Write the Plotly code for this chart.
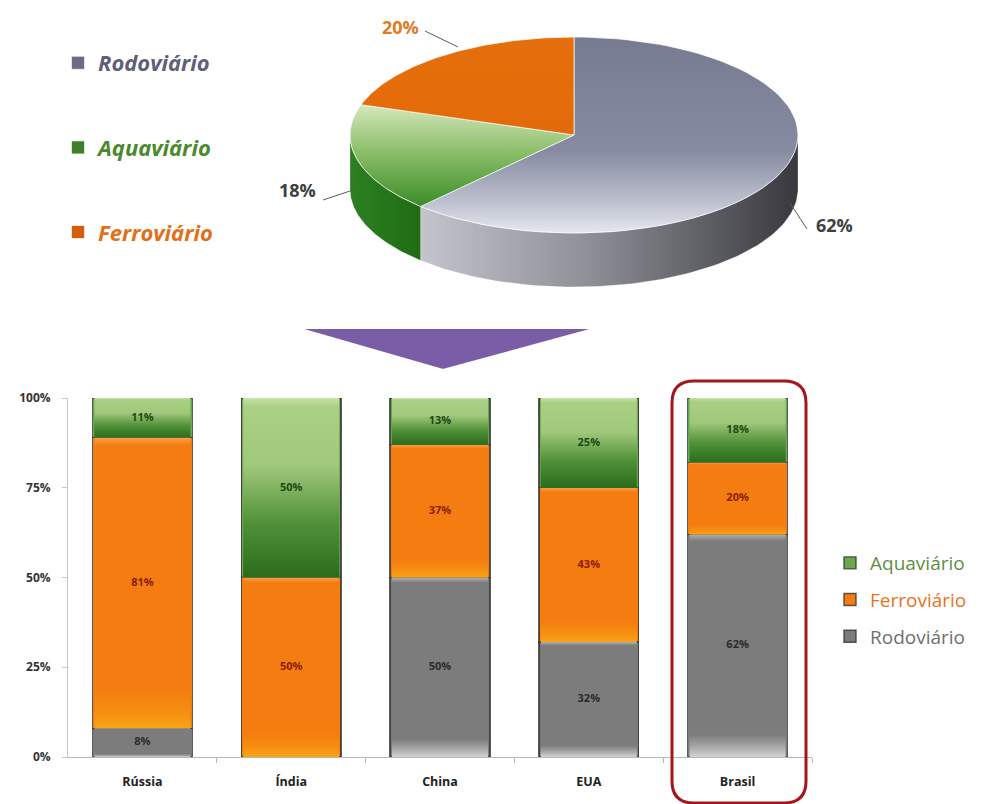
import math
import plotly.graph_objects as go

# ---- data -------------------------------------------------------------
countries = ["Rússia", "Índia", "China", "EUA", "Brasil"]
rodoviario = [8, 0, 50, 32, 62]
ferroviario = [81, 50, 37, 43, 20]
aquaviario = [11, 50, 13, 25, 18]
y_ticks = [0, 25, 50, 75, 100]

pie_modes = ["Rodoviário", "Aquaviário", "Ferroviário"]
pie_shares = [62, 18, 20]

W, H = 989, 804
BAR_W = 0.67


def px(x):
    return x / W


def py(y):
    return 1 - y / H


fig = go.Figure()
xpos = list(range(len(countries)))

# ---- stacked bars -----------------------------------------------------
bar_series = [
    dict(name="Rodoviário", vals=rodoviario, color="#7c7c7c", text="#2b2b2b", legend="#6f6f6f", rank=3,
         grad=[[0, "#d2d2d2"], [0.05, "#a4a4a4"], [0.1, "#7c7c7c"], [0.97, "#7c7c7c"], [1, "#b0b0b0"]]),
    dict(name="Ferroviário", vals=ferroviario, color="#f47c12", text="#8a1c00", legend="#e8731a", rank=2,
         grad=[[0, "#f7a418"], [0.06, "#f68e10"], [0.14, "#f47c10"], [0.97, "#f47c10"], [1, "#f7a048"]]),
    dict(name="Aquaviário", vals=aquaviario, color="#6aa84c", text="#1d4a12", legend="#5d8f45", rank=1,
         grad=[[0, "#2a6c1c"], [0.3, "#4f9038"], [0.62, "#a0c87a"], [0.95, "#aad084"], [1, "#c8e2aa"]]),
]
base = [0] * len(countries)
segments = []
for s in bar_series:
    fig.add_trace(go.Bar(
        x=xpos, y=s["vals"], width=BAR_W,
        name=f"<span style='color:{s['legend']}'>{s['name']}</span>",
        legendgroup=s["name"], legendrank=s["rank"], legend="legend",
        marker=dict(color=s["color"], line=dict(color="rgba(50,50,50,0.8)", width=1.4)),
        hoverinfo="skip",
    ))
    for i, v in enumerate(s["vals"]):
        if v:
            segments.append((s, i, base[i], base[i] + v))
        base[i] += v

# shaded face of each segment, from the same stacked values
inset = 0.012
for s, i, lo, hi in segments:
    x0, x1 = i - BAR_W / 2 + inset, i + BAR_W / 2 - inset
    fig.add_trace(go.Scatter(
        x=[x0, x1, x1, x0, x0], y=[lo, lo, hi, hi, lo], mode="lines", fill="toself",
        fillgradient=dict(type="vertical", colorscale=s["grad"]),
        line=dict(width=0), showlegend=False, hoverinfo="skip"))

# value labels at the middle of each segment
for s in bar_series:
    pts = [(i, (lo + hi) / 2, hi - lo) for ss, i, lo, hi in segments if ss is s]
    fig.add_trace(go.Scatter(
        x=[p[0] for p in pts], y=[p[1] for p in pts], mode="text",
        text=[f"{p[2]}%" for p in pts],
        textfont=dict(family="Open Sans", size=11, color=s["text"], weight="bold"),
        showlegend=False, hoverinfo="skip"))

# ---- 3D-style pie built from the shares -------------------------------
cx, cy, rx, ry, depth = 574, H - 135, 224, 98, 54


def ell(t):
    return cx + rx * math.sin(t), cy + ry * math.cos(t)


def arc(a, b, n=80):
    pts = [ell(a + (b - a) * i / n) for i in range(n + 1)]
    return [p[0] for p in pts], [p[1] for p in pts]


pie_style = {
    "Rodoviário": dict(
        top=dict(type="vertical", colorscale=[[0, "#e6e8f0"], [0.16, "#bcc0ce"], [0.42, "#868ba1"], [1, "#767b92"]]),
        side=dict(type="horizontal", colorscale=[[0, "#c4c4cc"], [0.45, "#8e8e96"], [1, "#38383e"]]),
        legend="#5f5f7a", marker="#6b6b86"),
    "Aquaviário": dict(
        top=dict(type="vertical", colorscale=[[0, "#3b8c29"], [0.5, "#86bb63"], [1, "#d4e7bb"]]),
        side=dict(type="horizontal", colorscale=[[0, "#2c8020"], [1, "#1f6c14"]]),
        legend="#4b8a2c", marker="#3f7f2a"),
    "Ferroviário": dict(
        top=dict(type="vertical", colorscale=[[0, "#e36a08"], [1, "#e56f0c"]]),
        side=dict(type="horizontal", colorscale=[[0, "#c05a08"], [1, "#a04a06"]]),
        legend="#e0701a", marker="#d06010"),
}

total = sum(pie_shares)
angles = []
acc = 0.0
for share in pie_shares:
    a = 2 * math.pi * acc / total
    acc += share
    angles.append((a, 2 * math.pi * acc / total))

# side walls (front half of the disc only)
for name, (a, b) in zip(pie_modes, angles):
    lo, hi = max(a, math.pi / 2), min(b, 3 * math.pi / 2)
    if hi <= lo:
        continue
    xs, ys = arc(lo, hi)
    sx = xs + xs[::-1] + [xs[0]]
    sy = ys + [y - depth for y in ys[::-1]] + [ys[0]]
    fig.add_trace(go.Scatter(
        x=sx, y=sy, xaxis="x2", yaxis="y2", mode="lines", fill="toself",
        fillgradient=pie_style[name]["side"], line=dict(width=0.6, color="rgba(255,255,255,0.5)"),
        showlegend=False, hoverinfo="skip"))

# top faces
for name, (a, b) in zip(pie_modes, angles):
    xs, ys = arc(a, b)
    fig.add_trace(go.Scatter(
        x=[cx] + xs + [cx], y=[cy] + ys + [cy], xaxis="x2", yaxis="y2",
        mode="lines", fill="toself",
        fillgradient=pie_style[name]["top"], line=dict(width=1, color="rgba(255,255,255,0.7)"),
        showlegend=False, hoverinfo="skip"))

# legend entries for the pie
for k, name in enumerate(pie_modes):
    st = pie_style[name]
    fig.add_trace(go.Scatter(
        x=[None], y=[None], xaxis="x2", yaxis="y2", mode="markers",
        marker=dict(symbol="square", size=13, color=st["marker"],
                    line=dict(color="rgba(255,255,255,0.6)", width=1)),
        name=f"<b><i><span style='color:{st['legend']}'>{name}</span></i></b>",
        legend="legend2", legendgroup="pie_" + name, legendrank=k + 1, hoverinfo="skip"))

# percentage labels with leader lines
share = dict(zip(pie_modes, pie_shares))
pie_labels = [
    ("Ferroviário", 400, 27, "#e07a1e", (425, 31, 458, 47)),
    ("Aquaviário", 297, 190, "#404040", (323, 200, 356, 189)),
    ("Rodoviário", 834, 225, "#404040", (790, 203, 807, 229)),
]
for name, lx, ly, col, (x0, y0, x1, y1) in pie_labels:
    fig.add_annotation(x=px(lx), y=py(ly), xref="paper", yref="paper",
                       xanchor="center", yanchor="middle",
                       text=f"{share[name]}%", showarrow=False,
                       font=dict(family="Open Sans", size=18, color=col, weight="bold"))
    fig.add_shape(type="line", xref="paper", yref="paper",
                  x0=px(x0), y0=py(y0), x1=px(x1), y1=py(y1),
                  line=dict(color="#5a5a5a", width=1))

# arrow between the two charts
tri = [(297, 328), (597, 328), (443, 370)]
fig.add_shape(type="path", xref="paper", yref="paper",
              path="M " + " L ".join(f"{px(x):.5f},{py(y):.5f}" for x, y in tri) + " Z",
              fillcolor="#7b5ca6", line=dict(color="white", width=2), layer="above")

# highlight around Brasil
x0, x1, y0, y1, r = 672, 806, 381, 803, 22
rr = (f"M {px(x0 + r)},{py(y0)} L {px(x1 - r)},{py(y0)} "
      f"Q {px(x1)},{py(y0)} {px(x1)},{py(y0 + r)} L {px(x1)},{py(y1 - r)} "
      f"Q {px(x1)},{py(y1)} {px(x1 - r)},{py(y1)} L {px(x0 + r)},{py(y1)} "
      f"Q {px(x0)},{py(y1)} {px(x0)},{py(y1 - r)} L {px(x0)},{py(y0 + r)} "
      f"Q {px(x0)},{py(y0)} {px(x0 + r)},{py(y0)} Z")
fig.add_shape(type="path", xref="paper", yref="paper", path=rr,
              line=dict(color="#a3161c", width=3), fillcolor="rgba(0,0,0,0)", layer="above")

fig.update_layout(
    width=W, height=H, margin=dict(l=0, r=0, t=0, b=0, autoexpand=False),
    paper_bgcolor="white", plot_bgcolor="rgba(0,0,0,0)",
    barmode="stack",
    font=dict(family="Open Sans", color="#333"),
    xaxis=dict(domain=[px(68), px(812)], range=[-0.5, 4.5],
               tickvals=xpos, ticktext=countries, automargin=False,
               showline=True, linecolor="#b8b8b8", linewidth=1,
               ticks="", ticklabelstandoff=13,
               tickfont=dict(family="Open Sans", size=12.5, color="#222", weight="bold"),
               minor=dict(tickvals=[i + 0.5 for i in xpos], ticks="outside", ticklen=5,
                          tickcolor="#b8b8b8", showgrid=False),
               showgrid=False, zeroline=False, fixedrange=True),
    yaxis=dict(domain=[1 - 757 / H, 1 - 398 / H], range=[0, 100], automargin=False,
               tickvals=y_ticks, ticktext=[f"{v}%" for v in y_ticks],
               showline=True, linecolor="#c8c8c8", linewidth=1,
               ticks="outside", ticklen=5, tickcolor="#c8c8c8", ticklabelstandoff=9,
               tickfont=dict(family="Open Sans", size=12, color="#333", weight="bold"),
               showgrid=False, zeroline=False, fixedrange=True),
    xaxis2=dict(domain=[0, 1], range=[0, W], visible=False, anchor="y2", automargin=False),
    yaxis2=dict(domain=[0, 1], range=[0, H], visible=False, anchor="x2", automargin=False),
    legend=dict(x=px(830), y=py(544), xanchor="left", yanchor="top",
                traceorder="grouped", tracegroupgap=9, itemwidth=30,
                font=dict(family="Open Sans", size=19, color="#777"),
                bgcolor="rgba(0,0,0,0)"),
    legend2=dict(x=px(58), y=py(42), xanchor="left", yanchor="top",
                 traceorder="grouped", tracegroupgap=53, itemwidth=30,
                 font=dict(family="Open Sans", size=22, color="#666"),
                 bgcolor="rgba(0,0,0,0)"),
    showlegend=True,
)

fig.write_html("out.html")
